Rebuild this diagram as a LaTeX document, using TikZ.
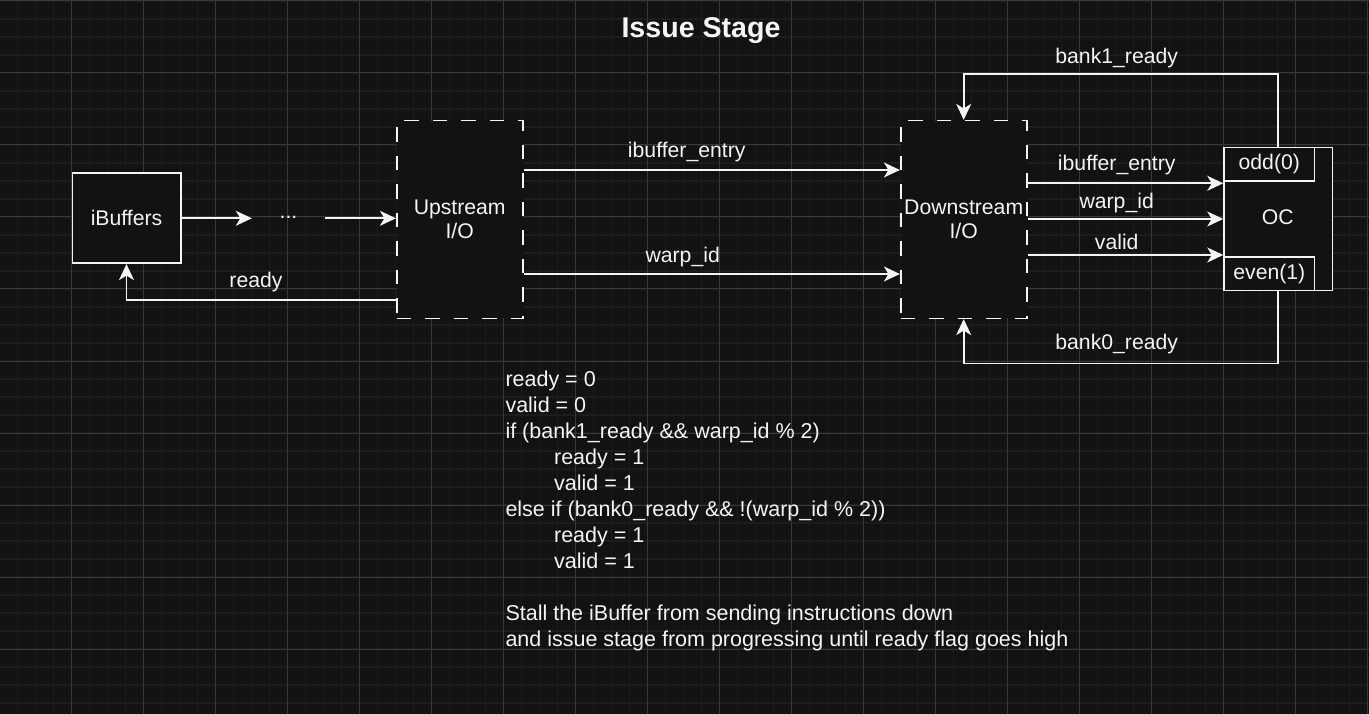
\documentclass[tikz,border=0pt]{standalone}
\usepackage{fontspec}
\setmainfont{Liberation Sans}
\usetikzlibrary{arrows.meta,positioning}
\definecolor{canvas}{HTML}{121212}
\definecolor{gridminor}{HTML}{1C1C1C}
\definecolor{gridmajor}{HTML}{383838}
\definecolor{ink}{HTML}{F4F4F4}
\newcommand{\lblfont}{\fontsize{21.2}{24.5}\selectfont}
\newcommand{\codefont}{\fontsize{21.5}{25.93}\selectfont}
\newcommand{\tab}{\hspace*{48.6pt}}
\tikzset{
  block/.style={rectangle,draw=ink,line width=1.6pt,fill=canvas,text=ink,align=center,inner sep=0pt,font=\lblfont},
  ioblock/.style={block,dash pattern=on 14.5pt off 14pt,minimum width=126pt,minimum height=197.6pt},
  lbl/.style={text=ink,font=\lblfont,inner sep=0pt,anchor=base},
  dots/.style={text=ink,font=\lblfont,inner sep=0pt,text height=0pt,text depth=0pt},
  codetext/.style={text=ink,font=\codefont,align=left,inner sep=0pt},
  arrow/.style={-{Stealth[length=16pt,width=15pt,inset=4.5pt]},line width=1.6pt,draw=ink},
  minorline/.style={draw=gridminor,line width=1.3pt},
  majorline/.style={draw=gridmajor,line width=1pt}
}

\begin{document}
\begin{tikzpicture}[x=1pt,y=-1pt]
    \useasboundingbox (0,0) rectangle (1369,714);
    % canvas and grid
    \fill[canvas] (0,0) rectangle (1369,714);
    \foreach \k in {0,...,76} \draw[minorline] (18*\k-0.7,0) -- (18*\k-0.7,714);
    \foreach \k in {0,...,39} \draw[minorline] (0,18*\k+1) -- (1369,18*\k+1);
    \foreach \k in {1,...,19} \draw[majorline] (72*\k-0.7,0) -- (72*\k-0.7,714);
    \foreach \k in {0,...,9} \draw[majorline] (0,72*\k+1) -- (1369,72*\k+1);

    \node[text=ink,font=\fontsize{28.6}{32}\selectfont\bfseries,inner sep=0pt,anchor=base] (title) at (701,37.3) {Issue Stage};

    % blocks
    \node[block,minimum width=108.4pt,minimum height=90pt] (ibuf) at (126.5,218.3) {iBuffers};
    \node[dots,minimum width=73pt] (gap) at (288.5,218.3) {...};
    \node[ioblock] (up) at (459.7,219.5) {Upstream\\I/O};
    \node[ioblock] (down) at (963.7,219.5) {Downstream\\I/O};
    \node[block,minimum width=108.3pt,minimum height=143pt] (oc) at (1278.2,219.2) {};
    \node[lbl] (octext) at (1277.7,225) {OC};
    \node[block,anchor=north west,minimum width=90.5pt,minimum height=33.3pt] (odd) at (oc.north west) {odd(0)};
    \node[block,anchor=south west,minimum width=90.5pt,minimum height=33.4pt] (even) at (oc.south west) {even(1)};

    % connectors
    \draw[arrow] (ibuf.east) -- (gap.west);
    \draw[arrow] (gap.east) -- (gap.east -| up.west);
    \draw[arrow] ([yshift=-80.5pt]up.west) -| (ibuf.south);
    \draw[arrow] ([yshift=49.5pt]up.east) -- ([yshift=49.5pt]down.west);
    \draw[arrow] ([yshift=-54.5pt]up.east) -- ([yshift=-54.5pt]down.west);
    \draw[arrow] ([yshift=36.2pt]down.east) -- ([yshift=36.2pt]down.east -| oc.west);
    \draw[arrow] ([yshift=0.5pt]down.east) -- ([yshift=0.5pt]down.east -| oc.west);
    \draw[arrow] ([yshift=-35.5pt]down.east) -- ([yshift=-35.5pt]down.east -| oc.west);
    \draw[arrow] (oc.north) -- ++(0,-72.7) -| (down.north);
    \draw[arrow] (oc.south) -- ++(0,72) -| (down.south);

    % labels
    \node[lbl] (lblentryup) at (686.7,158) {ibuffer\_entry};
    \node[lbl] (lblwarpup) at (682.7,262.4) {warp\_id};
    \node[lbl] (lblready) at (256,287.4) {ready};
    \node[lbl] (lblentry) at (1116.7,170.3) {ibuffer\_entry};
    \node[lbl] (lblwarp) at (1116.7,209) {warp\_id};
    \node[lbl] (lblvalid) at (1116.7,249.3) {valid};
    \node[lbl] (lblbank1) at (1116.7,64) {bank1\_ready};
    \node[lbl] (lblbank0) at (1116.7,349) {bank0\_ready};

    % issue logic
    \node[codetext,anchor=base west] (logic) at (505.3,646) {ready = 0\\
      valid = 0\\
      if (bank1\_ready \&\& warp\_id \% 2)\\
      \tab ready = 1\\
      \tab valid = 1\\
      else if (bank0\_ready \&\& !(warp\_id \% 2))\\
      \tab ready = 1\\
      \tab valid = 1\\
      \mbox{}\\
      Stall the iBuffer from sending instructions down\\
      and issue stage from progressing until ready flag goes high};
\end{tikzpicture}
\end{document}
